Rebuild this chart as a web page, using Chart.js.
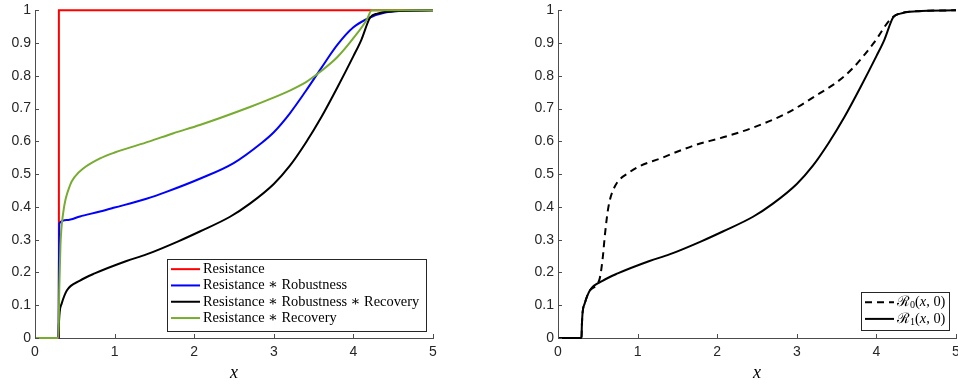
<!DOCTYPE html>
<html>
<head>
<meta charset="utf-8">
<script src="https://cdn.jsdelivr.net/npm/chart.js@4.4.1/dist/chart.umd.min.js"></script>
<style>
html, body { margin: 0; padding: 0; background: #fff; overflow: hidden; }
#wrap { position: relative; width: 958px; height: 392px; overflow: hidden; }
.box { position: absolute; top: 0; height: 392px; }
#boxL { left: 0; width: 479px; }
#boxR { left: 479px; width: 500px; }
</style>
</head>
<body>
<div id="wrap">
    <div class="box" id="boxL"><canvas id="chartL"></canvas></div>
    <div class="box" id="boxR"><canvas id="chartR"></canvas></div>
</div>
<script>
// tick labels
const xTickLabels = ["0", "1", "2", "3", "4", "5"];
const yTickLabels = ["0", "0.1", "0.2", "0.3", "0.4", "0.5", "0.6", "0.7", "0.8", "0.9", "1"];

// left panel
const resX = [0, 0.3, 0.3, 5];
const resY = [0, 0, 1, 1];

const robX = [0, 0.295, 0.3, 0.305, 0.4, 0.565, 0.817, 1.0, 1.4, 1.65, 2.07, 2.49, 2.85, 3.0, 3.2, 3.4, 3.6, 3.8, 4.0, 4.21, 4.4, 4.6, 5];
const robY = [0, 0, 0.2, 0.35, 0.36, 0.371, 0.386, 0.398, 0.425, 0.446, 0.486, 0.533, 0.596, 0.628, 0.685, 0.753, 0.825, 0.895, 0.948, 0.978, 0.993, 0.998, 1];

const allX = [0, 0.295, 0.3, 0.31, 0.335, 0.4, 0.565, 0.75, 1.15, 1.4, 1.8, 2.07, 2.45, 2.7, 3.0, 3.2, 3.4, 3.6, 3.8, 4.0, 4.1, 4.21, 4.3, 4.5, 5];
const allY = [0, 0, 0.04, 0.08, 0.105, 0.145, 0.175, 0.197, 0.235, 0.255, 0.295, 0.325, 0.37, 0.41, 0.47, 0.525, 0.595, 0.675, 0.765, 0.86, 0.91, 0.978, 0.99, 0.997, 1];

const recX = [0, 0.295, 0.305, 0.32, 0.356, 0.44, 0.5, 0.61, 0.817, 1.0, 1.44, 1.74, 2.07, 2.7, 2.95, 3.2, 3.4, 3.57, 3.79, 4.0, 4.17, 4.23, 5];
const recY = [0, 0, 0.15, 0.285, 0.385, 0.466, 0.492, 0.518, 0.548, 0.566, 0.6, 0.625, 0.65, 0.705, 0.729, 0.755, 0.78, 0.81, 0.855, 0.915, 0.972, 1, 1];

// right panel
const r0X = [0, 0.295, 0.3, 0.31, 0.335, 0.4, 0.52, 0.56, 0.59, 0.63, 0.69, 0.9, 1.32, 1.74, 2.04, 2.45, 2.88, 3.29, 3.5, 3.71, 3.96, 4.21, 4.5, 5];
const r0Y = [0, 0, 0.04, 0.08, 0.105, 0.145, 0.178, 0.24, 0.316, 0.395, 0.45, 0.506, 0.551, 0.59, 0.61, 0.642, 0.687, 0.747, 0.78, 0.825, 0.898, 0.98, 0.997, 1];

const r1X = allX;
const r1Y = allY;

const axisColor = "#4d4d4d";
const textColor = "#262626";
const serif = "'Liberation Serif', 'DejaVu Serif', serif";

function pts(xs, ys) {
    return xs.map((x, i) => ({ x: x, y: ys[i] }));
}

// ticks pointing into the plot, like matlab
const inwardTicks = {
    id: "inwardTicks",
    afterDatasetsDraw(chart) {
        const ctx = chart.ctx, a = chart.chartArea;
        const x = chart.scales.x, y = chart.scales.y;
        ctx.save();
        ctx.strokeStyle = axisColor;
        ctx.lineWidth = 1;
        ctx.beginPath();
        x.ticks.forEach(t => {
            const px = Math.round(x.getPixelForValue(t.value)) + 0.5;
            ctx.moveTo(px, a.bottom);
            ctx.lineTo(px, a.bottom - 4);
        });
        y.ticks.forEach(t => {
            const py = Math.round(y.getPixelForValue(t.value)) + 0.5;
            ctx.moveTo(a.left, py);
            ctx.lineTo(a.left + 4, py);
        });
        ctx.stroke();
        ctx.restore();
    }
};

// '_0' = subscript, '$x$' = italic
function labelParts(text) {
    const parts = [];
    let i = 0;
    while (i < text.length) {
        if (text[i] === "_") {
            parts.push({ t: text[i + 1], sub: true });
            i += 2;
        } else if (text[i] === "$") {
            const j = text.indexOf("$", i + 1);
            parts.push({ t: text.slice(i + 1, j), it: true });
            i = j + 1;
        } else {
            let j = i;
            while (j < text.length && text[j] !== "_" && text[j] !== "$") j++;
            parts.push({ t: text.slice(i, j) });
            i = j;
        }
    }
    return parts;
}

function partFont(p, size) {
    if (p.sub) return (size * 0.7) + "px " + serif;
    if (p.it) return "italic " + size + "px " + serif;
    return size + "px " + serif;
}

function drawLabel(ctx, text, x, y, size, measureOnly) {
    let cx = x;
    labelParts(text).forEach(p => {
        ctx.font = partFont(p, size);
        if (!measureOnly) ctx.fillText(p.t, cx, p.sub ? y + 3 : y);
        cx += ctx.measureText(p.t).width;
    });
    return cx - x;
}

// boxed legend inside the axes, bottom right
const boxLegend = {
    id: "boxLegend",
    afterDraw(chart, args, opts) {
        const ctx = chart.ctx, a = chart.chartArea;
        const sets = chart.data.datasets.slice().sort((p, q) => p.legendIndex - q.legendIndex);
        ctx.save();
        ctx.textBaseline = "middle";
        const tw = Math.max(...sets.map(d => drawLabel(ctx, d.label, 0, 0, opts.fontSize, true)));
        const w = 4 + 29 + 3 + tw + opts.padRight;
        const h = sets.length * opts.rowH + opts.padV;
        const x0 = Math.round(a.right - opts.right - w);
        const y0 = Math.round(a.bottom - opts.bottom - h);
        ctx.fillStyle = "#fff";
        ctx.fillRect(x0, y0, w, h);
        ctx.strokeStyle = textColor;
        ctx.lineWidth = 1;
        ctx.strokeRect(x0 + 0.5, y0 + 0.5, Math.round(w), Math.round(h));
        sets.forEach((d, i) => {
            const cy = y0 + opts.padTop + opts.rowH * (i + 0.5);
            ctx.strokeStyle = d.borderColor;
            ctx.lineWidth = d.borderWidth;
            ctx.setLineDash(d.borderDash || []);
            ctx.beginPath();
            ctx.moveTo(x0 + 4, cy);
            ctx.lineTo(x0 + 33, cy);
            ctx.stroke();
            ctx.setLineDash([]);
            ctx.fillStyle = "#000";
            drawLabel(ctx, d.label, x0 + 36, cy, opts.fontSize, false);
        });
        ctx.restore();
    }
};

function axesOptions(padLeft, padRight, legendOpts) {
    return {
        responsive: true,
        maintainAspectRatio: false,
        animation: false,
        layout: {
            padding: { left: padLeft, right: padRight, top: 6, bottom: 0 }
        },
        plugins: {
            legend: { display: false },
            tooltip: { enabled: false },
            boxLegend: legendOpts
        },
        scales: {
            x: {
                type: "linear",
                min: 0,
                max: 5,
                afterFit: s => { s.height = 54; },
                grid: { display: true, drawOnChartArea: false, drawTicks: false },
                border: { display: true, color: axisColor, width: 1 },
                ticks: {
                    stepSize: 1,
                    maxRotation: 0,
                    padding: 6,
                    color: textColor,
                    font: { family: "'Liberation Sans', Arial, sans-serif", size: 14 },
                    callback: v => xTickLabels[Math.round(v)]
                },
                title: {
                    display: true,
                    text: "x",
                    color: "#000",
                    font: { family: serif, size: 18, style: "italic" },
                    padding: { top: 0, bottom: 8 }
                }
            },
            y: {
                min: 0,
                max: 1,
                afterFit: s => { s.width = 35; },
                grid: { display: true, drawOnChartArea: false, drawTicks: false },
                border: { display: true, color: axisColor, width: 1 },
                ticks: {
                    stepSize: 0.1,
                    autoSkip: false,
                    padding: 4,
                    color: textColor,
                    font: { family: "'Liberation Sans', Arial, sans-serif", size: 14, lineHeight: 0.9 },
                    callback: v => yTickLabels[Math.round(v * 10)]
                }
            }
        }
    };
}

function line(label, xs, ys, color, order, legendIndex, extra) {
    return Object.assign({
        label: label,
        data: pts(xs, ys),
        borderColor: color,
        backgroundColor: color,
        borderWidth: 2,
        pointRadius: 0,
        fill: false,
        clip: 4,
        cubicInterpolationMode: "monotone",
        order: order,
        legendIndex: legendIndex
    }, extra || {});
}

new Chart("chartL", {
    type: "line",
    data: {
        datasets: [
            line("Resistance", resX, resY, "#ff0000", 3, 0, { cubicInterpolationMode: "default", tension: 0 }),
            line("Resistance \u2217 Robustness", robX, robY, "#0000ff", 2, 1),
            line("Resistance \u2217 Robustness \u2217 Recovery", allX, allY, "#000000", 1, 2),
            line("Resistance \u2217 Recovery", recX, recY, "#77ac30", 0, 3)
        ]
    },
    options: axesOptions(0, 46, { right: 7, bottom: 7, rowH: 16.3, padTop: 2, padV: 7, padRight: 7, fontSize: 14.4 }),
    plugins: [inwardTicks, boxLegend]
});

new Chart("chartR", {
    type: "line",
    data: {
        datasets: [
            line("\u211B_0($x$, 0)", r0X, r0Y, "#000000", 1, 0, { borderDash: [7, 5] }),
            line("\u211B_1($x$, 0)", r1X, r1Y, "#000000", 0, 1)
        ]
    },
    options: axesOptions(44, 23, { right: 7, bottom: 8, rowH: 16.6, padTop: 2, padV: 5, padRight: 4, fontSize: 14.4 }),
    plugins: [inwardTicks, boxLegend]
});
</script>
</body>
</html>
